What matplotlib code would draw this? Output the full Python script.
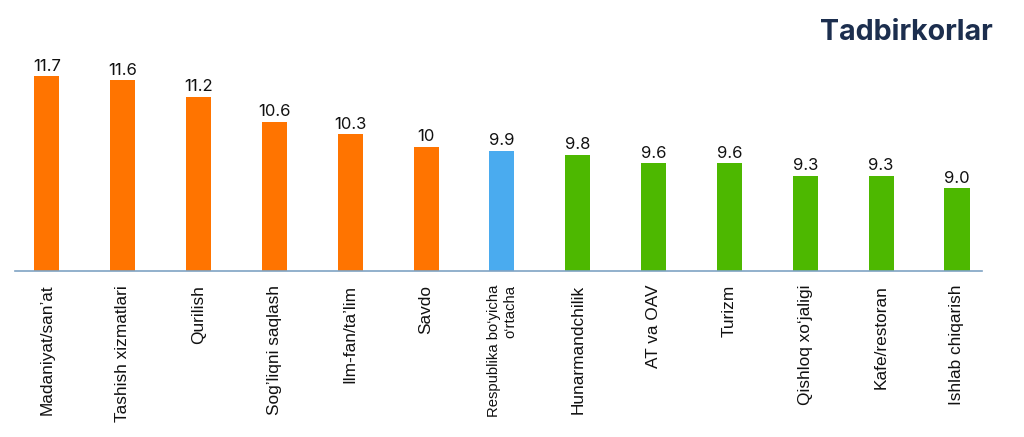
import matplotlib
matplotlib.use('Agg')
import matplotlib.pyplot as plt
import numpy as np

# Data
categories = ["Madaniyat/san\u2019at", "Tashish xizmatlari", "Qurilish", "Sog\u2019liqni saqlash",
              "Ilm-fan/ta\u2019lim", "Savdo", "Respublika bo\u2018yicha\no\u2018rtacha", "Hunarmandchilik",
              "AT va OAV", "Turizm", "Qishloq xo\u2018jaligi", "Kafe/restoran", "Ishlab chiqarish"]
values = [11.7, 11.6, 11.2, 10.6, 10.3, 10.0, 9.9, 9.8, 9.6, 9.6, 9.3, 9.3, 9.0]
value_labels = ["11.7", "11.6", "11.2", "10.6", "10.3", "10", "9.9", "9.8", "9.6", "9.6", "9.3", "9.3", "9.0"]
groups = ["above"] * 6 + ["avg"] + ["below"] * 6

colors = {"above": "#FF7400", "avg": "#4AABEF", "below": "#4DB800"}
BASE = 7.0

fig = plt.figure(figsize=(10.24, 4.37), dpi=100)
ax = fig.add_axes([0.0146, 0.380, 0.9444, 0.528])

x = np.arange(len(categories))
bar_colors = [colors[g] for g in groups]
ax.bar(x, np.array(values) - BASE, bottom=BASE, width=0.33, color=bar_colors, zorder=2)

for xi, v, lab in zip(x, values, value_labels):
    ax.text(xi, v + 0.06, lab, ha='center', va='bottom', fontsize=12,
            family='Inter', color='#111111')

ax.set_xlim(-0.42, 12.33)
ax.set_ylim(BASE, 12.57)

for s in ['top', 'right', 'left']:
    ax.spines[s].set_visible(False)
ax.spines['bottom'].set_color('#7FA3C4')
ax.spines['bottom'].set_linewidth(1.2)
ax.set_yticks([])
ax.set_xticks(x)
ax.set_xticklabels(categories, rotation=90, fontsize=12.4, family='Liberation Sans', color='#111111')
ax.tick_params(axis='x', length=0, pad=10)
for lbl in ax.get_xticklabels():
    if '\n' in lbl.get_text():
        lbl.set_fontsize(10.7)
        lbl.set_multialignment('right')

fig.text(0.969, 0.925, "Tadbirkorlar", ha='right', va='center', fontsize=20.6,
         fontweight='bold', family='Inter', color='#1C2E4E')

fig.savefig('out.png', dpi=100)
